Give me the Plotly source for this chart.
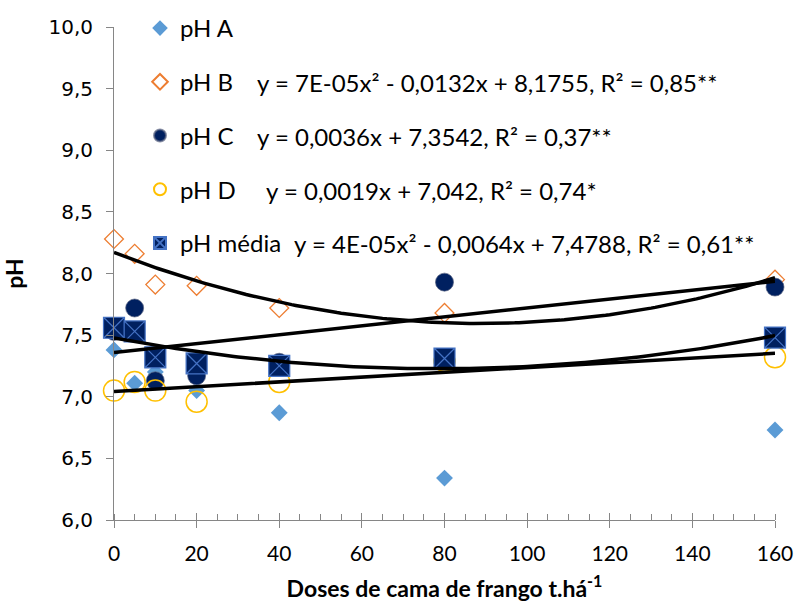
import numpy as np
import plotly.graph_objects as go

# ---- data ----
doses = [0, 5, 10, 20, 40, 80, 160]
ph_a = [7.38, 7.11, 7.20, 7.05, 6.87, 6.34, 6.73]
ph_b = [8.28, 8.16, 7.91, 7.90, 7.72, 7.68, 7.95]
ph_c = [7.53, 7.72, 7.13, 7.17, 7.28, 7.93, 7.89]
ph_d = [7.05, 7.12, 7.05, 6.96, 7.12, 7.29, 7.32]
ph_media = [7.56, 7.53, 7.32, 7.27, 7.25, 7.31, 7.48]

series_names = ["pH A", "pH B", "pH C", "pH D", "pH média"]
eq_b = "y = 7E-05x² - 0,0132x + 8,1755, R² = 0,85**"
eq_c = "y = 0,0036x + 7,3542, R² = 0,37**"
eq_d = "y = 0,0019x + 7,042, R² = 0,74*"
eq_m = "y = 4E-05x² - 0,0064x + 7,4788, R² = 0,61**"

y_ticks = [6.0, 6.5, 7.0, 7.5, 8.0, 8.5, 9.0, 9.5, 10.0]
x_ticks = [0, 20, 40, 60, 80, 100, 120, 140, 160]

# ---- layout geometry (body margin removed by post_script) ----
W, H = 795, 608
ML, MT = 114, 27
PLOT_R, PLOT_B = 775, 520
MR, MB = W - PLOT_R, H - PLOT_B
PW, PH = PLOT_R - ML, PLOT_B - MT


def px(xs):
    """screen x -> paper x"""
    return (xs - ML) / PW


def py(ys):
    """screen y -> paper y"""
    return 1 - (ys - MT) / PH


fig = go.Figure()

styles = [
    dict(symbol="diamond", size=13, color="#5B9BD5", line=dict(width=0)),
    dict(symbol="diamond-open", size=14.5, color="#ED7D31", line=dict(width=1.3)),
    dict(symbol="circle", size=18, color="#002060", line=dict(color="rgba(90,100,130,0.7)", width=1)),
    dict(symbol="circle-open", size=21, color="#FFC000", line=dict(width=1.5)),
    dict(symbol="square-x", size=21, color="#002060", line=dict(color="#4472C4", width=1.2)),
]
values = [ph_a, ph_b, ph_c, ph_d, ph_media]

for name, vals, st in zip(series_names, values, styles):
    fig.add_trace(go.Scatter(
        x=doses, y=vals, mode="markers", name=name, marker=st,
        cliponaxis=False, legendgroup=name,
    ))

# trendlines fitted from the data
xs = np.linspace(0, 160, 161)
for vals, deg in [(ph_b, 2), (ph_c, 1), (ph_d, 1), (ph_media, 2)]:
    coef = np.polyfit(doses, vals, deg)
    fig.add_trace(go.Scatter(
        x=xs, y=np.polyval(coef, xs), mode="lines",
        line=dict(color="black", width=3.5), showlegend=False,
        hoverinfo="skip", cliponaxis=False,
    ))

# helper axis for the inner half of the crossing major ticks
fig.add_trace(go.Scatter(x=[0], y=[6], xaxis="x2", mode="markers",
                         marker=dict(opacity=0), showlegend=False, hoverinfo="skip"))

eq_font = dict(family="Lato", size=24, color="black")
for txt, xs_, ys_ in [(eq_b, 255, 82), (eq_c, 255, 136), (eq_d, 264, 190), (eq_m, 292, 243)]:
    fig.add_annotation(text=txt, xref="paper", yref="paper", x=px(xs_), y=py(ys_),
                       xanchor="left", yanchor="middle", showarrow=False, font=eq_font)

axis_col = "#868686"
fig.update_layout(
    width=W, height=H,
    margin=dict(l=ML, r=MR, t=MT, b=MB, autoexpand=False),
    paper_bgcolor="white", plot_bgcolor="white",
    separators=",.",
    font=dict(family="Lato", color="black"),
    showlegend=True,
    legend=dict(
        x=px(140), y=py(6), xanchor="left", yanchor="top",
        font=dict(family="Lato", size=24, color="black"),
        itemsizing="constant", tracegroupgap=19.5, bgcolor="rgba(0,0,0,0)",
    ),
    xaxis=dict(
        range=[0, 160], tickvals=x_ticks, ticks="outside", ticklen=7,
        tickcolor=axis_col, showline=True, linecolor=axis_col, linewidth=1,
        showgrid=False, zeroline=False, automargin=False, ticklabelstandoff=8,
        minor=dict(dtick=5, ticks="inside", ticklen=6, tickcolor=axis_col),
        tickfont=dict(family="Lato", size=21, color="black"),
        title=dict(text="<b>Doses de cama de frango t.há<sup>-1</sup></b>",
                   font=dict(family="Lato", size=23, color="black"), standoff=16),
    ),
    xaxis2=dict(
        range=[0, 160], tickvals=x_ticks, ticks="inside", ticklen=7,
        tickcolor=axis_col, overlaying="x", anchor="y", side="bottom",
        showticklabels=False, showline=False, showgrid=False, zeroline=False,
        automargin=False,
    ),
    yaxis=dict(
        range=[6, 10], tickvals=y_ticks, tickformat=".1f", ticks="outside",
        ticklen=7, tickcolor=axis_col, showline=True, linecolor=axis_col,
        linewidth=1, showgrid=False, zeroline=False, automargin=False,
        ticklabelstandoff=9,
        tickfont=dict(family="DejaVu Sans", size=20, color="black"),
        title=dict(text="<b>pH</b>", font=dict(family="Lato", size=23, color="black"),
                   standoff=23),
    ),
)

fig.write_html(
    "out.html",
    config={"displayModeBar": False},
    post_script="document.body.style.margin='0';document.body.style.overflow='hidden';",
)
